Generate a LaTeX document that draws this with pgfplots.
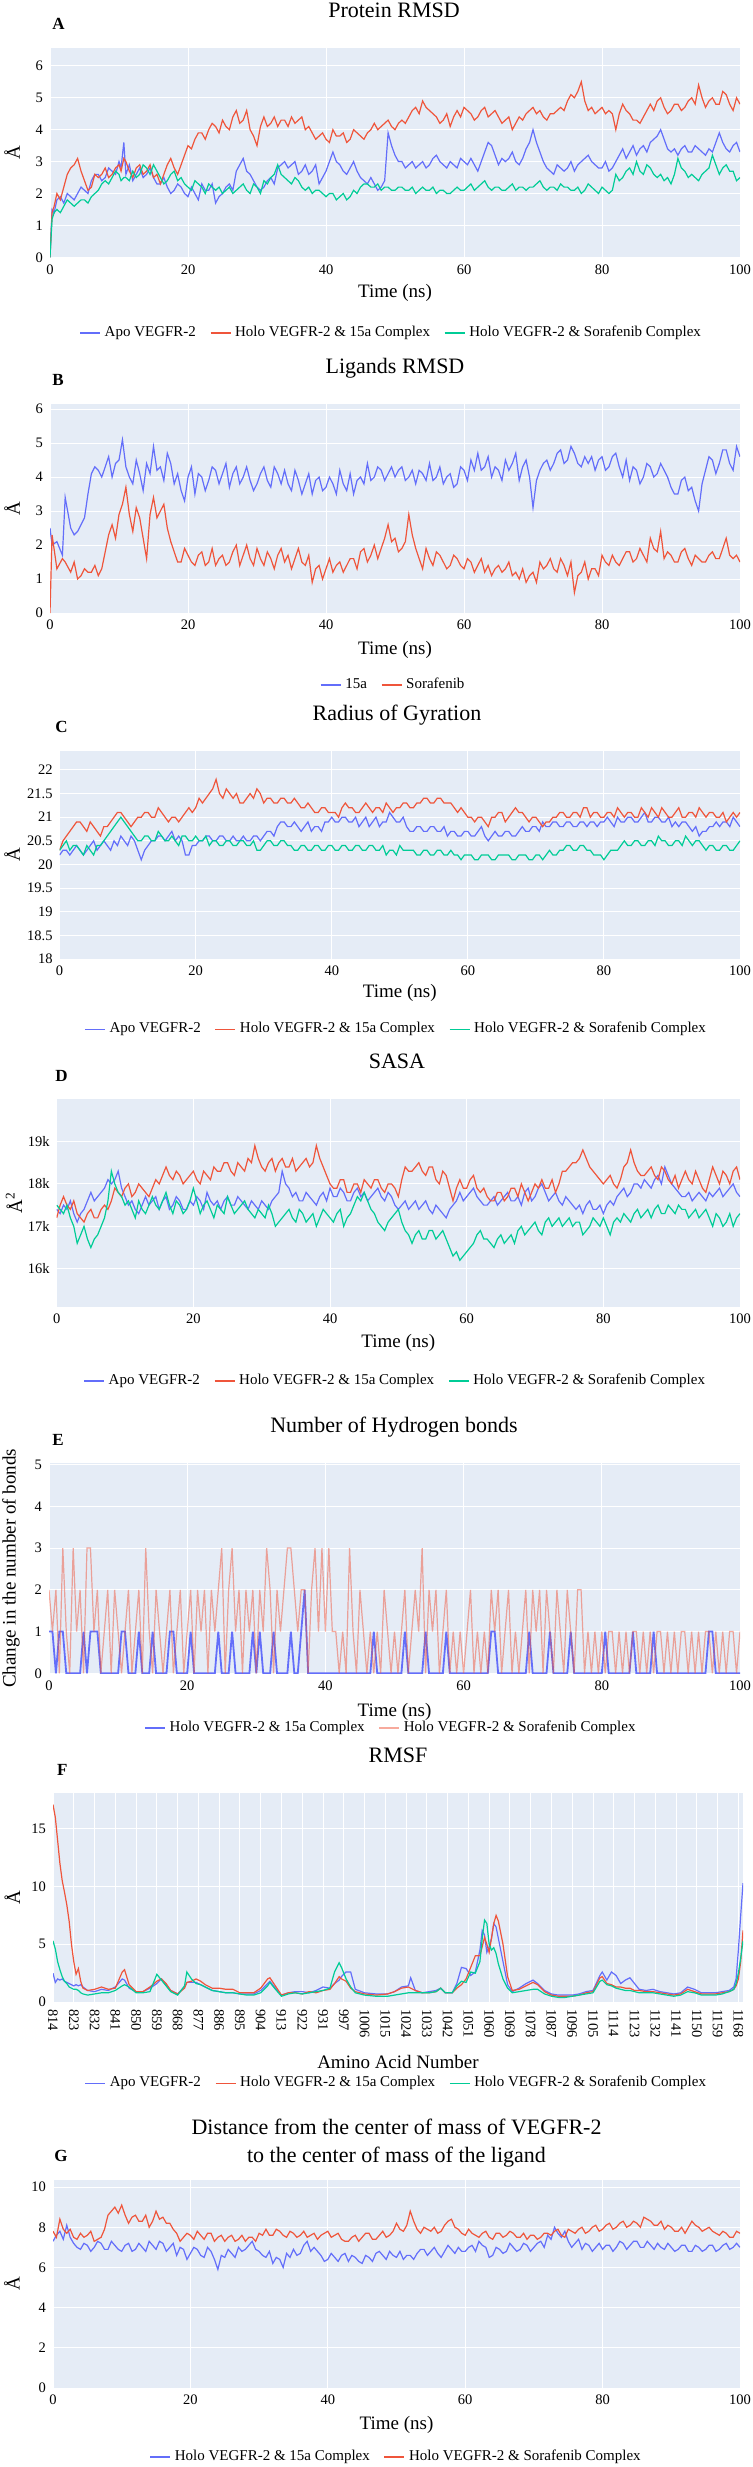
\documentclass[border=0pt]{standalone}
\usepackage{fontspec}
\setmainfont{Liberation Serif}
\usepackage{pgfplots}
\pgfplotsset{compat=1.18}
\usepackage{pgfplotstable}
\definecolor{pblue}{HTML}{636EFA}
\definecolor{pred}{HTML}{EF553B}
\definecolor{pgreen}{HTML}{00CC96}
\definecolor{bgc}{HTML}{E5ECF6}
\newcommand{\tickf}{\fontsize{7.25}{8}\selectfont}
\newcommand{\labf}{\fontsize{9.5}{11}\selectfont}
\newcommand{\legf}{\fontsize{7.5}{9}\selectfont}
\newcommand{\titf}{\fontsize{11}{13}\selectfont}
\newcommand{\letf}{\bfseries\fontsize{8.5}{10}\selectfont}

\pgfplotsset{
  legend image code/.code={\draw[#1] (0pt,0pt) -- (10pt,0pt);},
  panel/.style={
    scale only axis, anchor=north west,
    axis background/.style={fill=bgc},
    axis line style={draw=none},
    major tick length=0pt,
    grid=major,
    major grid style={draw=white, line width=0.5pt},
    tick label style={font=\tickf},
    label style={font=\labf},
    /pgf/number format/assume math mode=true,
    legend style={draw=none, fill=none, font=\legf, legend columns=-1, anchor=center,
      /tikz/every even column/.append style={column sep=5pt}},
    every axis plot/.append style={line width=0.6pt},
    no markers,
    scaled ticks=false,
  },
  timeax/.style={xmin=0, xmax=100, xtick={0,20,40,60,80,100}},
}

\pgfplotstableread{
t apo h15 hsor
0 0 0 0
0.3 1.5 1.4 1.2
0.6 1.4 1.6 1.4
1 1.8 2.0 1.5
1.5 1.9 1.8 1.4
2 1.7 2.2 1.6
2.5 2.0 2.6 1.8
3 1.9 2.8 1.7
3.5 1.8 2.9 1.6
4 2.0 3.1 1.7
4.5 2.2 2.7 1.8
5 2.1 2.4 1.8
5.5 2.0 2.1 1.7
6 2.4 2.2 1.9
6.5 2.6 2.6 2.0
7 2.6 2.5 2.1
7.5 2.4 2.6 2.3
8 2.5 2.8 2.4
8.5 2.8 2.5 2.3
9 2.7 2.6 2.5
9.5 2.6 2.8 2.7
10 3.0 2.9 2.6
10.3 2.8 2.7 2.4
10.7 3.6 3.1 2.5
11 2.6 3.0 2.5
11.5 2.9 2.7 2.4
12 2.4 2.5 2.7
12.5 2.6 2.8 2.5
13 2.8 2.9 2.6
13.5 2.5 2.6 2.9
14 2.6 2.7 2.8
14.5 2.8 2.9 2.6
15 2.5 2.5 2.9
15.5 2.3 2.6 2.7
16 2.3 2.3 2.5
16.5 2.5 2.6 2.3
17 2.2 2.9 2.4
17.5 2.0 3.1 2.6
18 2.1 2.8 2.7
18.5 2.3 2.6 2.4
19 2.2 2.9 2.5
19.5 2.0 3.2 2.3
20 1.9 3.5 2.2
20.5 2.2 3.4 2.1
21 2.0 3.7 2.4
21.5 1.8 3.9 2.3
22 2.3 3.9 2.2
22.5 2.1 3.7 2.0
23 2.1 4.0 2.3
23.5 2.3 4.2 2.2
24 1.7 4.1 2.1
24.5 1.9 3.9 2.2
25 2.0 4.3 2.0
25.5 2.2 4.1 2.1
26 2.3 4.0 2.2
26.5 2.1 4.4 2.0
27 2.7 4.6 2.1
27.5 2.9 4.2 2.2
28 3.1 4.3 2.3
28.5 2.7 4.6 2.1
29 2.6 4.0 2.0
29.5 2.4 3.8 2.3
30 2.2 3.5 2.2
30.5 2.1 4.1 2.0
31 2.2 4.4 2.4
31.5 2.4 4.1 2.3
32 2.5 4.2 2.5
32.5 2.3 4.4 2.6
33 2.8 4.1 2.9
33.5 2.9 4.3 2.6
34 3.0 4.3 2.5
34.5 2.8 4.1 2.4
35 2.9 4.4 2.3
35.5 3.0 4.2 2.5
36 2.6 4.3 2.4
36.5 2.7 4.4 2.2
37 2.9 4.0 2.1
37.5 2.6 4.1 2.2
38 2.7 3.9 2.0
38.5 2.9 3.7 2.1
39 2.3 3.8 2.1
39.5 2.5 3.9 2.0
40 2.7 3.7 1.9
40.5 3.0 3.6 2.0
41 3.3 4.0 2.0
41.5 3.0 3.8 1.8
42 2.9 3.8 1.9
42.5 2.7 3.9 2.0
43 2.6 3.6 1.8
43.5 2.8 3.7 1.9
44 3.0 4.0 2.1
44.5 2.7 3.9 2.0
45 2.5 3.8 2.2
45.5 2.4 3.7 2.3
46 2.3 3.9 2.3
46.5 2.5 4.0 2.2
47 2.3 4.2 2.2
47.5 2.1 4.0 2.3
48 2.2 4.1 2.1
48.5 2.4 4.2 2.2
49 3.9 4.3 2.2
49.5 3.5 4.1 2.1
50 3.2 4.0 2.1
50.5 3.0 4.2 2.2
51 3.0 4.3 2.2
51.5 2.8 4.2 2.1
52 2.9 4.4 2.1
52.5 3.0 4.6 2.2
53 2.8 4.7 2.0
53.5 2.9 4.5 2.1
54 3.0 4.9 2.2
54.5 2.8 4.7 2.1
55 2.9 4.6 2.1
55.5 3.1 4.5 2.2
56 3.2 4.4 2.0
56.5 3.0 4.2 2.1
57 2.9 4.3 2.1
57.5 2.8 4.5 2.0
58 3.0 4.1 2.0
58.5 2.9 4.4 2.1
59 2.8 4.6 2.2
59.5 3.1 4.4 2.1
60 3.0 4.7 2.1
60.5 2.9 4.6 2.2
61 3.1 4.5 2.3
61.5 2.9 4.3 2.1
62 2.7 4.4 2.2
62.5 3.0 4.6 2.3
63 3.3 4.7 2.4
63.5 3.6 4.4 2.2
64 3.5 4.5 2.1
64.5 3.2 4.6 2.2
65 2.9 4.4 2.2
65.5 3.1 4.2 2.1
66 3.0 4.3 2.1
66.5 3.1 4.4 2.2
67 3.3 4.0 2.3
67.5 3.0 4.2 2.1
68 2.9 4.4 2.2
68.5 3.1 4.3 2.2
69 3.4 4.5 2.1
69.5 3.6 4.6 2.2
70 4.0 4.7 2.2
70.5 3.6 4.5 2.3
71 3.3 4.6 2.4
71.5 3.0 4.4 2.2
72 2.8 4.3 2.1
72.5 2.7 4.5 2.2
73 2.6 4.5 2.2
73.5 2.9 4.6 2.1
74 2.8 4.7 2.3
74.5 2.7 4.6 2.2
75 2.8 4.9 2.2
75.5 3.0 5.1 2.1
76 2.7 5.0 2.1
76.5 2.9 5.2 2.2
77 3.0 5.5 2.0
77.5 3.1 4.9 2.1
78 3.2 4.6 2.3
78.5 3.0 4.7 2.2
79 2.9 4.5 2.1
79.5 2.8 4.6 2.0
80 2.8 4.7 2.2
80.5 3.0 4.5 2.1
81 2.7 4.6 2.0
81.5 2.8 4.5 2.1
82 3.0 4.0 2.6
82.5 3.2 4.5 2.4
83 3.4 4.8 2.5
83.5 3.1 4.6 2.7
84 3.3 4.5 2.8
84.5 3.5 4.3 2.6
85 3.2 4.3 3.0
85.5 3.4 4.2 2.7
86 3.5 4.4 2.6
86.5 3.3 4.6 2.9
87 3.6 4.8 2.8
87.5 3.7 4.6 2.6
88 3.8 4.9 2.5
88.5 4.0 5.0 2.6
89 3.7 4.7 2.4
89.5 3.4 4.5 2.5
90 3.3 4.6 2.3
90.5 3.4 4.8 2.6
91 3.2 4.8 3.1
91.5 3.4 4.6 2.8
92 3.5 4.7 2.7
92.5 3.3 4.9 2.5
93 3.3 5.0 2.6
93.5 3.5 4.8 2.5
94 3.4 5.4 2.4
94.5 3.3 5.0 2.6
95 3.2 4.7 2.7
95.5 3.4 4.9 2.8
96 3.3 5.0 3.2
96.5 3.6 4.8 2.9
97 3.9 4.8 2.6
97.5 3.6 5.2 2.8
98 3.4 5.1 2.9
98.5 3.3 4.8 2.7
99 3.5 4.6 2.7
99.5 3.6 5.0 2.4
100 3.3 4.8 2.5
}\tabA

\pgfplotstableread{
t l15 lsor
0 2.5 0.0
0.3 2.0 2.3
1 2.1 1.3
1.8 1.7 1.6
2.2 3.4 1.5
3 2.5 1.2
3.5 2.3 1.5
4 2.4 1.0
4.5 2.6 1.1
5 2.8 1.3
5.5 3.5 1.2
6 4.1 1.2
6.5 4.3 1.4
7 4.2 1.1
7.5 4.0 1.3
8 4.3 1.8
8.5 4.6 2.3
9 4.0 2.6
9.5 4.4 2.2
10 4.5 2.9
10.5 5.1 3.2
11 4.3 3.7
11.5 4.0 2.9
12 3.8 2.4
12.5 4.5 3.1
13 4.1 2.8
13.5 3.6 2.2
14 4.4 1.6
14.5 4.1 2.9
15 4.9 3.4
15.5 4.2 2.8
16 4.3 3.0
16.5 3.9 3.2
17 4.7 2.5
17.5 4.4 2.1
18 3.8 1.8
18.5 4.1 1.5
19 3.6 1.5
19.5 3.3 1.9
20 4.0 1.7
20.5 4.3 1.5
21 3.5 1.4
21.5 4.1 1.7
22 4.0 1.8
22.5 3.6 1.4
23 3.9 1.5
23.5 4.3 1.9
24 4.2 1.4
24.5 3.8 1.6
25 4.1 1.7
25.5 4.4 1.4
26 3.7 1.5
26.5 4.1 1.8
27 4.3 2.0
27.5 3.8 1.4
28 4.0 1.7
28.5 4.3 2.0
29 3.9 1.6
29.5 3.6 1.4
30 3.8 1.9
30.5 4.1 1.6
31 4.3 1.4
31.5 3.9 1.8
32 3.7 1.6
32.5 4.3 1.3
33 4.1 1.7
33.5 3.8 1.9
34 4.2 1.5
34.5 3.8 1.7
35 3.6 1.3
35.5 4.2 1.6
36 3.9 1.9
36.5 3.5 1.5
37 3.8 1.4
37.5 4.1 1.7
38 3.5 0.9
38.5 3.9 1.3
39 4.0 1.4
39.5 3.6 1.0
40 3.7 1.3
40.5 4.0 1.6
41 3.8 1.2
41.5 3.5 1.4
42 4.2 1.5
42.5 3.8 1.2
43 3.6 1.4
43.5 4.1 1.6
44 3.5 1.6
44.5 3.9 1.3
45 4.0 1.8
45.5 3.8 1.9
46 4.4 1.5
46.5 3.9 1.7
47 4.0 2.0
47.5 4.3 1.6
48 4.2 1.9
48.5 3.9 2.2
49 4.1 2.6
49.5 4.3 2.1
50 4.0 2.2
50.5 4.2 1.8
51 4.3 1.9
51.5 3.9 2.1
52 4.0 2.9
52.5 4.2 2.3
53 3.8 1.9
53.5 4.2 1.6
54 4.1 1.3
54.5 3.9 1.9
55 4.4 1.6
55.5 3.9 1.4
56 4.0 1.8
56.5 4.3 1.7
57 3.8 1.5
57.5 4.0 1.3
58 4.1 1.4
58.5 3.7 1.7
59 3.8 1.6
59.5 4.3 1.4
60 4.2 1.3
60.5 3.9 1.6
61 4.5 1.5
61.5 4.2 1.2
62 4.7 1.4
62.5 4.2 1.6
63 4.3 1.2
63.5 4.6 1.4
64 4.0 1.1
64.5 4.3 1.3
65 4.2 1.4
65.5 3.9 1.2
66 4.5 1.3
66.5 4.2 1.5
67 4.4 1.1
67.5 4.7 1.2
68 3.9 1.0
68.5 4.3 1.3
69 4.5 0.9
69.5 4.0 1.1
70 3.1 1.2
70.5 3.9 0.9
71 4.2 1.5
71.5 4.4 1.3
72 4.5 1.4
72.5 4.2 1.6
73 4.4 1.3
73.5 4.7 1.2
74 4.8 1.6
74.5 4.4 1.4
75 4.5 1.1
75.5 4.9 1.5
76 4.7 0.6
76.5 4.4 1.1
77 4.3 1.2
77.5 4.6 1.5
78 4.4 1.0
78.5 4.6 1.3
79 4.2 1.3
79.5 4.5 1.1
80 4.6 1.7
80.5 4.2 1.5
81 4.3 1.4
81.5 4.6 1.7
82 4.7 1.5
82.5 4.3 1.4
83 4.0 1.6
83.5 4.5 1.8
84 3.9 1.8
84.5 4.3 1.5
85 4.2 1.6
85.5 3.8 1.9
86 4.0 1.7
86.5 4.4 1.5
87 4.3 2.2
87.5 4.0 1.9
88 4.1 1.8
88.5 4.4 2.4
89 4.2 1.6
89.5 4.0 1.8
90 3.7 1.7
90.5 3.5 1.5
91 3.5 1.5
91.5 3.9 1.8
92 4.0 1.9
92.5 3.6 1.6
93 3.7 1.4
93.5 3.3 1.7
94 3.0 1.6
94.5 3.8 1.5
95 4.2 1.5
95.5 4.6 1.7
96 4.5 1.8
96.5 4.1 1.6
97 4.4 1.6
97.5 4.8 1.9
98 4.8 2.2
98.5 4.4 1.7
99 4.2 1.6
99.5 4.9 1.7
100 4.6 1.5
}\tabB

\pgfplotstableread{
t apo h15 hsor
0 20.2 20.3 20.3
0.5 20.3 20.5 20.4
1 20.3 20.6 20.5
1.5 20.2 20.7 20.3
2 20.3 20.8 20.4
2.5 20.4 20.9 20.4
3 20.3 20.9 20.3
3.5 20.2 20.8 20.2
4 20.3 20.7 20.4
4.5 20.4 20.9 20.3
5 20.5 20.8 20.2
5.5 20.3 20.7 20.4
6 20.4 20.6 20.4
6.5 20.5 20.8 20.5
7 20.4 20.8 20.6
7.5 20.3 20.9 20.7
8 20.5 21.0 20.8
8.5 20.4 21.1 20.9
9 20.6 21.1 21.0
9.5 20.5 21.0 20.9
10 20.4 20.9 20.8
10.5 20.6 20.8 20.7
11 20.5 20.9 20.6
11.5 20.3 21.0 20.5
12 20.1 21.0 20.5
12.5 20.3 21.1 20.6
13 20.4 21.1 20.6
13.5 20.5 21.0 20.5
14 20.5 21.0 20.5
14.5 20.6 21.2 20.7
15 20.6 21.1 20.6
15.5 20.5 21.0 20.5
16 20.6 20.9 20.5
16.5 20.7 21.0 20.6
17 20.5 21.0 20.5
17.5 20.6 20.9 20.4
18 20.5 21.0 20.6
18.5 20.2 21.1 20.6
19 20.2 21.2 20.5
19.5 20.4 21.1 20.5
20 20.4 21.2 20.6
20.5 20.5 21.4 20.5
21 20.5 21.3 20.5
21.5 20.6 21.4 20.6
22 20.6 21.5 20.4
22.5 20.5 21.6 20.5
23 20.5 21.8 20.5
23.5 20.6 21.5 20.4
24 20.6 21.4 20.4
24.5 20.5 21.6 20.5
25 20.5 21.5 20.5
25.5 20.6 21.4 20.4
26 20.5 21.5 20.4
26.5 20.5 21.3 20.5
27 20.6 21.3 20.5
27.5 20.5 21.4 20.4
28 20.5 21.5 20.4
28.5 20.6 21.4 20.5
29 20.6 21.6 20.3
29.5 20.5 21.5 20.3
30 20.6 21.3 20.4
30.5 20.7 21.4 20.5
31 20.7 21.4 20.5
31.5 20.6 21.3 20.4
32 20.8 21.3 20.4
32.5 20.9 21.4 20.5
33 20.9 21.4 20.5
33.5 20.8 21.3 20.4
34 20.8 21.3 20.4
34.5 20.9 21.4 20.3
35 20.8 21.3 20.3
35.5 20.7 21.2 20.4
36 20.8 21.2 20.4
36.5 20.9 21.3 20.3
37 20.7 21.2 20.3
37.5 20.8 21.1 20.4
38 20.8 21.1 20.4
38.5 20.7 21.2 20.3
39 20.9 21.2 20.3
39.5 20.9 21.1 20.4
40 21.0 21.1 20.4
40.5 20.9 21.1 20.3
41 20.9 21.0 20.3
41.5 21.0 21.2 20.4
42 21.0 21.3 20.4
42.5 20.9 21.2 20.3
43 20.9 21.2 20.3
43.5 21.0 21.1 20.4
44 20.8 21.1 20.4
44.5 20.9 21.2 20.3
45 21.0 21.3 20.3
45.5 20.8 21.2 20.4
46 20.9 21.1 20.4
46.5 21.0 21.2 20.3
47 20.8 21.2 20.3
47.5 20.9 21.1 20.4
48 20.9 21.3 20.2
48.5 21.1 21.2 20.3
49 21.0 21.1 20.3
49.5 20.9 21.2 20.2
50 20.9 21.2 20.4
50.5 21.0 21.3 20.3
51 20.8 21.3 20.3
51.5 20.7 21.2 20.3
52 20.7 21.2 20.3
52.5 20.8 21.3 20.2
53 20.8 21.3 20.2
53.5 20.7 21.4 20.3
54 20.7 21.4 20.3
54.5 20.8 21.3 20.2
55 20.8 21.3 20.2
55.5 20.7 21.4 20.3
56 20.7 21.4 20.3
56.5 20.8 21.3 20.2
57 20.6 21.3 20.2
57.5 20.7 21.3 20.3
58 20.7 21.2 20.2
58.5 20.6 21.1 20.2
59 20.6 21.2 20.1
59.5 20.7 21.1 20.2
60 20.7 21.0 20.2
60.5 20.6 21.0 20.2
61 20.6 20.9 20.1
61.5 20.7 21.0 20.1
62 20.8 21.0 20.2
62.5 20.6 20.9 20.2
63 20.5 20.8 20.2
63.5 20.6 21.0 20.1
64 20.7 21.0 20.1
64.5 20.6 21.1 20.2
65 20.6 21.1 20.2
65.5 20.7 20.9 20.2
66 20.7 21.0 20.2
66.5 20.6 21.1 20.1
67 20.6 21.2 20.1
67.5 20.7 21.1 20.2
68 20.8 21.1 20.2
68.5 20.7 21.0 20.2
69 20.7 20.9 20.1
69.5 20.8 21.0 20.1
70 20.8 21.0 20.2
70.5 20.7 20.9 20.2
71 20.9 20.8 20.1
71.5 20.8 20.9 20.2
72 20.8 20.9 20.3
72.5 20.9 21.0 20.2
73 20.9 21.0 20.2
73.5 20.8 21.1 20.3
74 20.8 21.1 20.3
74.5 20.9 21.0 20.4
75 20.9 21.0 20.4
75.5 20.8 21.1 20.3
76 20.8 21.1 20.3
76.5 20.9 21.0 20.4
77 20.9 21.2 20.4
77.5 20.8 21.2 20.3
78 20.9 21.0 20.3
78.5 20.9 21.1 20.2
79 20.8 21.1 20.2
79.5 20.9 21.0 20.2
80 20.9 21.0 20.1
80.5 21.0 21.1 20.2
81 20.9 21.1 20.3
81.5 20.8 21.0 20.3
82 21.0 21.2 20.3
82.5 20.9 21.1 20.4
83 20.9 21.0 20.5
83.5 21.0 21.1 20.4
84 21.0 21.1 20.4
84.5 20.9 21.0 20.5
85 20.9 21.0 20.5
85.5 21.0 21.2 20.4
86 21.1 21.1 20.4
86.5 20.9 21.0 20.5
87 20.9 21.2 20.5
87.5 21.0 21.1 20.4
88 21.0 21.0 20.6
88.5 20.9 21.2 20.5
89 20.9 21.1 20.5
89.5 21.0 21.0 20.4
90 20.8 21.0 20.4
90.5 20.9 21.1 20.5
91 20.8 21.2 20.5
91.5 20.9 21.0 20.4
92 20.9 21.0 20.6
92.5 20.8 21.1 20.5
93 20.7 21.1 20.4
93.5 20.8 21.0 20.5
94 20.6 21.2 20.5
94.5 20.7 21.1 20.4
95 20.7 21.0 20.3
95.5 20.8 21.1 20.4
96 20.8 21.1 20.4
96.5 20.9 21.0 20.3
97 20.8 21.0 20.3
97.5 20.9 21.1 20.4
98 20.9 20.9 20.4
98.5 20.8 21.0 20.3
99 21.0 21.1 20.3
99.5 20.9 21.0 20.4
100 20.8 21.1 20.5
}\tabC

\pgfplotstableread{
t apo h15 hsor
0 17400 17200 17500
0.5 17300 17500 17400
1 17500 17700 17300
1.5 17400 17500 17500
2 17600 17400 17200
2.5 17300 17600 17000
3 17100 17300 16600
3.5 17300 17200 16800
4 17400 17100 17000
4.5 17600 17300 16700
5 17800 17400 16500
5.5 17600 17200 16700
6 17700 17200 16800
6.5 17800 17400 17000
7 17900 17500 17200
7.5 18100 17400 17600
8 18000 17600 18300
8.5 18100 17900 18000
9 18300 17800 17800
9.5 17900 17700 17700
10 17700 17900 17500
10.5 17500 18000 17600
11 17600 17700 17400
11.5 17400 17800 17200
12 17300 18000 17600
12.5 17500 17900 17400
13 17700 17800 17300
13.5 17500 17700 17500
14 17600 17900 17700
14.5 17700 18100 17500
15 17400 18000 17400
15.5 17600 18200 17600
16 17700 18400 17800
16.5 17400 18200 17500
17 17500 18100 17300
17.5 17700 18300 17600
18 17600 18200 17500
18.5 17400 18000 17300
19 17400 18100 17400
19.5 17600 18200 17600
20 17500 18300 17900
20.5 17700 18100 17600
21 17600 18000 17300
21.5 17400 18300 17500
22 17800 18200 17600
22.5 17600 18100 17400
23 17500 18400 17200
23.5 17600 18300 17500
24 17400 18300 17400
24.5 17600 18500 17300
25 17700 18500 17700
25.5 17500 18300 17500
26 17500 18200 17300
26.5 17700 18500 17400
27 17600 18400 17500
27.5 17500 18300 17600
28 17400 18600 17400
28.5 17600 18500 17300
29 17500 18900 17200
29.5 17400 18600 17400
30 17600 18400 17300
30.5 17500 18300 17200
31 17400 18500 17500
31.5 17600 18600 17300
32 17700 18300 17000
32.5 17800 18500 17100
33 18300 18600 17200
33.5 18000 18400 17300
34 17900 18400 17400
34.5 17700 18600 17200
35 17800 18300 17100
35.5 17600 18400 17400
36 17600 18500 17300
36.5 17800 18600 17100
37 17700 18400 17200
37.5 17600 18500 17300
38 17500 18900 17000
38.5 17700 18600 17200
39 17800 18400 17400
39.5 17600 18200 17300
40 17900 18000 17200
40.5 17700 17900 17100
41 17700 17900 17300
41.5 17900 18100 17400
42 17800 18100 17000
42.5 17600 17800 17200
43 17600 17800 17300
43.5 17800 18000 17500
44 17900 18000 17700
44.5 17700 17800 17600
45 17800 18100 17800
45.5 17600 18000 17600
46 17700 17900 17400
46.5 17800 18100 17300
47 17900 18100 17100
47.5 17700 17900 17000
48 17600 17800 16900
48.5 17800 18000 17100
49 17700 18000 17200
49.5 17500 17900 17300
50 17400 17700 17400
50.5 17500 18100 17100
51 17600 18400 16900
51.5 17400 18300 16800
52 17500 18300 16600
52.5 17600 18400 16800
53 17400 18500 16900
53.5 17500 18300 16700
54 17600 18200 16700
54.5 17400 18400 16900
55 17300 18400 16900
55.5 17500 18100 16700
56 17400 18000 16800
56.5 17300 18300 16900
57 17200 18200 16700
57.5 17400 17900 16500
58 17500 17600 16300
58.5 17600 17900 16400
59 17800 18100 16200
59.5 17600 17900 16300
60 17700 17900 16400
60.5 17800 18100 16500
61 17900 18200 16600
61.5 17700 17900 16800
62 17600 17800 16900
62.5 17500 17900 16700
63 17500 17700 16700
63.5 17600 17600 16600
64 17700 17600 16500
64.5 17500 17800 16700
65 17600 17800 16800
65.5 17700 17600 16600
66 17800 17700 16700
66.5 17600 17900 16800
67 17600 17900 16600
67.5 17700 17700 16900
68 17500 18000 17000
68.5 17800 17800 16800
69 17900 17600 16900
69.5 17600 17800 17000
70 17700 18000 17100
70.5 17900 17900 16900
71 18000 18100 16800
71.5 17800 17900 17100
72 17600 17900 17200
72.5 17700 18100 17000
73 17800 17800 17100
73.5 17600 18000 17200
74 17500 18300 17000
74.5 17700 18300 17100
75 17600 18400 17200
75.5 17500 18500 17000
76 17400 18500 17100
76.5 17500 18600 17100
77 17300 18800 16800
77.5 17500 18600 16900
78 17600 18400 17000
78.5 17400 18300 17200
79 17400 18200 17100
79.5 17500 18100 17000
80 17300 18000 17200
80.5 17500 18100 17000
81 17600 18200 16800
81.5 17500 18000 17100
82 17700 17900 17200
82.5 17800 18100 17100
83 17900 18400 17300
83.5 17700 18500 17200
84 17800 18800 17100
84.5 18000 18500 17300
85 18000 18300 17400
85.5 17900 18200 17200
86 18100 18200 17300
86.5 18000 18300 17400
87 17900 18400 17200
87.5 18100 18200 17400
88 18200 18100 17500
88.5 18000 18400 17300
89 18400 18300 17300
89.5 18200 18100 17500
90 18000 18000 17400
90.5 17900 18200 17300
91 17800 17900 17500
91.5 17700 18100 17400
92 17700 18300 17400
92.5 17800 18100 17200
93 17600 18000 17300
93.5 17700 18300 17400
94 17800 18100 17200
94.5 17700 17900 17300
95 17600 17800 17400
95.5 17800 18100 17200
96 17700 18400 17000
96.5 17800 18200 17300
97 17900 18000 17200
97.5 17700 18300 17000
98 17800 18200 17100
98.5 17900 18000 17300
99 18000 18300 17000
99.5 17800 18400 17200
100 17700 18100 17300
}\tabD

\pgfplotstableread{
t b s
0 1 2
0.5 1 1
1 0 2
1.5 1 0
2 1 3
2.5 0 1
3 0 0
3.5 0 3
4 0 1
4.5 0 2
5 1 0
5.5 0 3
6 1 3
6.5 1 1
7 1 2
7.5 0 0
8 0 1
8.5 0 2
9 0 0
9.5 0 2
10 0 1
10.5 1 0
11 1 1
11.5 0 2
12 0 0
12.5 0 1
13 1 2
13.5 0 0
14 0 3
14.5 0 1
15 1 0
15.5 0 2
16 0 1
16.5 0 0
17 0 1
17.5 1 2
18 1 0
18.5 0 1
19 0 2
19.5 0 0
20 0 1
20.5 1 2
21 0 0
21.5 0 2
22 0 1
22.5 0 2
23 0 0
23.5 0 2
24 0 1
24.5 1 2
25 0 3
25.5 0 0
26 0 2
26.5 1 3
27 0 1
27.5 0 2
28 0 0
28.5 0 2
29 0 1
29.5 1 2
30 0 0
30.5 1 2
31 0 1
31.5 0 3
32 0 2
32.5 1 0
33 0 2
33.5 0 1
34 0 2
34.5 0 3
35 1 3
35.5 0 2
36 0 1
36.5 1 2
37 2 2
37.5 0 0
38 0 2
38.5 0 3
39 0 1
39.5 0 3
40 0 1
40.5 0 3
41 0 1
41.5 0 1
42 0 0
42.5 0 1
43 0 0
43.5 0 3
44 0 1
44.5 0 0
45 0 2
45.5 0 1
46 0 0
46.5 0 1
47 1 0
47.5 0 1
48 0 0
48.5 0 2
49 0 1
49.5 0 0
50 0 1
50.5 0 0
51 0 1
51.5 1 2
52 0 0
52.5 0 1
53 0 2
53.5 0 1
54 0 3
54.5 1 0
55 0 2
55.5 0 1
56 0 2
56.5 0 0
57 0 1
57.5 1 2
58 0 0
58.5 0 1
59 0 0
59.5 0 1
60 0 0
60.5 0 1
61 0 2
61.5 0 0
62 0 1
62.5 0 0
63 0 1
63.5 0 0
64 1 2
64.5 1 1
65 0 2
65.5 0 0
66 0 1
66.5 0 2
67 0 0
67.5 0 1
68 0 0
68.5 0 1
69 0 2
69.5 1 0
70 0 2
70.5 0 1
71 0 2
71.5 0 0
72 0 2
72.5 1 1
73 0 0
73.5 0 2
74 0 1
74.5 0 0
75 0 2
75.5 1 1
76 0 0
76.5 0 2
77 0 2
77.5 0 0
78 0 1
78.5 0 0
79 0 1
79.5 0 0
80 0 1
80.5 1 0
81 0 1
81.5 0 1
82 0 0
82.5 0 1
83 0 0
83.5 0 1
84 0 0
84.5 1 1
85 0 1
85.5 0 0
86 0 1
86.5 0 0
87 0 1
87.5 1 0
88 0 1
88.5 0 1
89 0 0
89.5 0 1
90 0 0
90.5 0 1
91 0 0
91.5 0 1
92 0 1
92.5 0 0
93 0 1
93.5 0 0
94 0 1
94.5 0 0
95 0 1
95.5 1 1
96 1 0
96.5 0 1
97 0 0
97.5 0 1
98 0 0
98.5 0 1
99 0 1
99.5 0 0
100 0 1
}\tabE

\pgfplotstableread{
i r b g
0 17.1 2.5 5.3
1 16.0 1.7 4.6
2 14.0 2.0 3.5
3 12.0 1.9 2.8
4 10.5 2.0 2.2
5 9.5 1.8 1.8
6 8.4 1.7 1.6
7 7.0 1.6 1.3
8 5.0 1.5 1.2
9 3.5 1.4 1.1
10 2.4 1.5 1.1
11 2.9 1.4 1.0
12 1.8 1.5 0.8
13 1.2 1.3 0.7
15 1.0 1.0 0.6
18 1.1 0.9 0.7
21 1.3 1.1 0.8
24 1.1 1.0 0.8
27 1.2 1.3 1.0
30 2.6 2.0 1.4
31 2.8 1.9 1.5
33 1.5 1.2 1.3
36 0.9 0.9 0.8
39 0.9 0.9 0.8
42 1.3 1.2 0.9
45 1.8 1.6 2.4
47 2.0 2.0 1.9
49 1.6 1.5 1.4
51 1.0 1.0 0.9
54 0.7 0.7 0.6
57 1.2 1.3 1.4
58 1.7 1.7 2.6
60 1.8 1.7 2.0
62 2.0 1.7 1.6
64 1.8 1.5 1.5
66 1.5 1.3 1.3
69 1.2 1.0 1.0
72 1.2 0.9 0.9
75 1.1 0.8 0.8
78 1.1 0.8 0.8
81 0.8 0.7 0.7
84 0.8 0.7 0.6
87 0.8 0.7 0.6
90 1.2 1.0 0.8
93 2.0 1.6 1.4
94 2.1 1.8 1.7
96 1.5 1.3 1.2
99 0.6 0.6 0.5
102 0.8 0.8 0.7
105 0.8 0.9 0.8
108 0.7 0.9 0.7
111 0.9 0.8 0.8
114 0.8 1.0 0.9
117 1.0 1.3 1.0
120 1.1 1.2 1.2
122 1.6 1.6 2.6
124 2.2 1.9 3.4
125 2.0 2.2 3.0
127 1.8 2.6 2.0
129 1.2 2.6 1.3
131 0.9 1.1 0.8
135 0.7 0.8 0.6
140 0.6 0.7 0.5
145 0.7 0.7 0.5
148 0.9 0.9 0.6
151 1.2 1.3 0.7
154 1.3 1.4 0.8
155 1.2 2.1 0.8
157 1.0 1.0 0.8
160 0.8 0.8 0.8
163 0.8 0.9 0.8
166 0.9 1.0 0.9
168 1.2 1.2 1.2
170 0.8 0.8 0.8
173 0.8 0.8 0.8
175 1.2 1.6 1.4
177 1.5 3.0 1.8
179 2.0 2.9 1.7
181 3.0 2.3 2.6
183 4.0 2.6 2.5
185 4.0 4.5 3.5
186 4.8 6.2 5.5
187 5.6 5.8 7.1
188 5.0 4.3 6.8
189 4.3 4.8 5.0
190 5.5 5.5 4.5
191 6.8 6.8 4.7
192 7.5 6.5 4.2
193 7.0 5.5 3.3
195 5.0 3.5 2.0
197 2.2 1.5 1.2
199 1.0 0.9 0.8
202 1.1 1.2 0.9
205 1.4 1.6 1.0
208 1.7 1.9 1.1
210 1.5 1.6 1.1
213 0.9 1.0 0.7
216 0.6 0.7 0.5
219 0.5 0.6 0.4
222 0.5 0.6 0.4
225 0.5 0.6 0.5
228 0.6 0.7 0.6
231 0.8 0.9 0.7
234 0.9 1.0 0.8
237 2.1 2.3 1.8
238 2.2 2.6 1.9
240 1.6 1.9 1.5
242 1.5 2.6 1.4
244 1.3 2.3 1.2
246 1.3 1.6 1.1
248 1.2 1.9 1.0
250 1.2 2.1 1.0
252 1.0 1.6 0.9
254 1.0 1.1 0.8
257 0.9 1.0 0.8
260 0.9 1.1 0.8
263 0.8 0.9 0.7
266 0.7 0.8 0.6
269 0.6 0.7 0.5
272 0.7 0.8 0.6
275 1.1 1.3 0.9
278 0.9 1.1 0.8
281 0.7 0.8 0.6
284 0.7 0.8 0.6
287 0.7 0.8 0.6
290 0.8 0.9 0.7
293 0.9 1.0 0.9
295 1.1 1.3 1.1
296 1.4 2.0 1.6
297 2.0 4.5 2.5
298 3.5 7.5 3.8
299 6.2 10.3 5.3
}\tabF

\pgfplotstableread{
t b r
0 7.3 7.8
0.5 7.6 7.5
1 7.8 8.4
1.5 7.4 7.9
2 8.1 7.7
2.5 7.5 7.9
3 7.2 7.5
3.5 7.0 7.4
4 6.9 7.7
4.5 7.2 7.5
5 7.1 7.6
5.5 6.8 7.8
6 7.0 7.3
6.5 7.3 7.4
7 7.2 7.5
7.5 6.9 7.9
8 6.9 8.6
8.5 7.3 8.8
9 7.1 9.0
9.5 6.9 8.7
10 6.8 9.1
10.5 7.1 8.6
11 7.2 8.2
11.5 6.8 8.5
12 6.9 8.6
12.5 7.2 8.3
13 7.0 8.3
13.5 6.8 8.6
14 7.3 8.0
14.5 7.1 8.3
15 6.9 8.8
15.5 7.3 8.4
16 7.2 8.5
16.5 6.8 8.2
17 7.0 8.2
17.5 7.2 7.9
18 6.6 7.7
18.5 7.0 7.3
19 6.9 7.5
19.5 6.4 7.7
20 6.7 7.6
20.5 7.0 7.4
21 6.9 7.8
21.5 6.6 7.6
22 6.5 7.4
22.5 7.0 7.7
23 6.8 7.7
23.5 6.4 7.3
24 5.9 7.5
24.5 6.6 7.6
25 6.5 7.3
25.5 6.9 7.5
26 6.7 7.6
26.5 6.5 7.3
27 7.0 7.4
27.5 6.8 7.6
28 6.9 7.3
28.5 7.1 7.5
29 7.3 7.5
29.5 6.9 7.3
30 6.8 7.7
30.5 6.6 7.6
31 6.5 7.9
31.5 6.8 7.6
32 6.2 7.6
32.5 6.5 7.9
33 6.4 7.8
33.5 6.0 7.6
34 6.7 7.5
34.5 6.5 7.8
35 6.9 7.7
35.5 6.6 7.5
36 6.7 7.6
36.5 7.1 7.8
37 7.3 7.5
37.5 6.8 7.6
38 7.0 7.7
38.5 6.8 7.4
39 6.6 7.6
39.5 6.3 7.7
40 6.4 7.8
40.5 6.7 7.5
41 6.5 7.6
41.5 6.3 7.7
42 6.6 7.4
42.5 6.7 7.3
43 6.3 7.3
43.5 6.6 7.5
44 6.5 7.6
44.5 6.3 7.3
45 6.2 7.5
45.5 6.6 7.7
46 6.5 7.7
46.5 6.3 7.4
47 6.7 7.4
47.5 6.8 7.6
48 6.6 7.8
48.5 6.4 7.5
49 6.8 7.6
49.5 6.6 7.8
50 6.5 8.2
50.5 6.8 7.9
51 6.4 7.8
51.5 6.6 8.1
52 6.6 8.8
52.5 6.4 8.3
53 6.7 7.9
53.5 6.9 7.7
54 6.9 8.0
54.5 6.6 7.9
55 6.8 7.8
55.5 7.0 8.0
56 6.7 7.7
56.5 6.5 7.8
57 6.8 8.1
57.5 7.1 8.3
58 6.9 8.4
58.5 6.7 8.0
59 7.0 7.9
59.5 6.8 7.7
60 6.8 7.6
60.5 7.0 7.9
61 7.1 7.7
61.5 6.8 7.6
62 7.3 7.5
62.5 7.1 7.7
63 7.0 7.8
63.5 6.5 7.5
64 6.6 7.4
64.5 7.0 7.7
65 6.9 7.7
65.5 6.7 7.5
66 6.8 7.6
66.5 7.2 7.8
67 7.0 7.7
67.5 6.8 7.5
68 6.9 7.5
68.5 7.2 7.7
69 7.1 7.4
69.5 6.8 7.6
70 7.0 7.6
70.5 7.2 7.4
71 7.3 7.5
71.5 7.0 7.7
72 7.6 7.7
72.5 7.4 7.6
73 8.0 7.8
73.5 7.7 7.9
74 7.5 7.6
74.5 7.8 7.5
75 7.3 7.9
75.5 7.0 7.8
76 7.2 7.7
76.5 7.4 7.9
77 6.9 8.0
77.5 7.2 7.7
78 7.1 7.8
78.5 6.8 8.0
79 7.0 8.1
79.5 7.2 7.8
80 6.9 7.9
80.5 7.1 8.1
81 7.1 8.2
81.5 6.8 7.9
82 7.0 8.0
82.5 7.3 8.2
83 7.2 8.3
83.5 6.9 8.0
84 7.1 8.1
84.5 7.3 8.3
85 7.3 8.2
85.5 7.0 8.0
86 7.0 8.5
86.5 7.3 8.4
87 7.1 8.3
87.5 6.9 8.1
88 7.2 8.1
88.5 7.0 8.3
89 6.9 7.9
89.5 7.2 8.1
90 7.0 8.0
90.5 6.8 7.8
91 6.9 7.8
91.5 7.1 8.0
92 7.1 7.7
92.5 6.8 8.0
93 6.8 8.3
93.5 7.1 8.1
94 7.0 8.0
94.5 6.8 7.8
95 6.9 7.9
95.5 7.1 8.0
96 7.1 7.8
96.5 6.8 7.7
97 6.9 7.6
97.5 7.1 7.8
98 7.2 7.7
98.5 6.9 7.5
99 7.0 7.5
99.5 7.2 7.8
100 7.0 7.7
}\tabG

\begin{document}
\begin{tikzpicture}
\useasboundingbox (0,0) rectangle (376.5pt,-1233.5pt);

% ---------- titles and panel letters ----------
\node[anchor=base, inner sep=0, font=\titf] at (197pt,-8.65pt) {Protein RMSD};
\node[anchor=base, inner sep=0, font=\titf] at (197.5pt,-186.5pt) {Ligands RMSD};
\node[anchor=base, inner sep=0, font=\titf] at (198.5pt,-360pt) {Radius of Gyration};
\node[anchor=base, inner sep=0, font=\titf] at (198.5pt,-534pt) {SASA};
\node[anchor=base, inner sep=0, font=\titf] at (197pt,-716.35pt) {Number of Hydrogen bonds};
\node[anchor=base, inner sep=0, font=\titf] at (199pt,-881.35pt) {RMSF};
\node[anchor=base, inner sep=0, font=\titf] at (198.25pt,-1067pt) {Distance from the center of mass of VEGFR-2};
\node[anchor=base, inner sep=0, font=\titf] at (198.25pt,-1081.35pt) {to the center of mass of the ligand};

\node[anchor=base west, inner sep=0, font=\letf] at (26pt,-14.65pt) {A};
\node[anchor=base west, inner sep=0, font=\letf] at (26pt,-192.5pt) {B};
\node[anchor=base west, inner sep=0, font=\letf] at (27.5pt,-366.35pt) {C};
\node[anchor=base west, inner sep=0, font=\letf] at (27.5pt,-540.85pt) {D};
\node[anchor=base west, inner sep=0, font=\letf] at (26pt,-722.5pt) {E};
\node[anchor=base west, inner sep=0, font=\letf] at (28.35pt,-887.5pt) {F};
\node[anchor=base west, inner sep=0, font=\letf] at (27pt,-1080.85pt) {G};

% ---------- A ----------
\begin{axis}[panel, timeax, at={(25pt,-23.85pt)}, width=345pt, height=104.8pt,
  ymin=0, ymax=6.57, ytick={0,1,2,3,4,5,6},
  xlabel={Time (ns)}, ylabel={Å},
  xlabel style={at={(axis description cs:0.5,-0.170)}, anchor=center},
  ylabel style={at={(axis description cs:-0.055,0.5)}, anchor=center},
  legend style={at={(0.496,-0.361)}}]
\addplot[pblue] table[x=t,y=apo]{\tabA};
\addlegendentry{Apo VEGFR-2}
\addplot[pred] table[x=t,y=h15]{\tabA};
\addlegendentry{Holo VEGFR-2 \& 15a Complex}
\addplot[pgreen] table[x=t,y=hsor]{\tabA};
\addlegendentry{Holo VEGFR-2 \& Sorafenib Complex}
\end{axis}

% ---------- B ----------
\begin{axis}[panel, timeax, at={(25pt,-202pt)}, width=345pt, height=104.5pt,
  ymin=0, ymax=6.15, ytick={0,1,2,3,4,5,6},
  xlabel={Time (ns)}, ylabel={Å},
  xlabel style={at={(axis description cs:0.5,-0.177)}, anchor=center},
  ylabel style={at={(axis description cs:-0.055,0.5)}, anchor=center},
  legend style={at={(0.499,-0.344)}}]
\addplot[pblue] table[x=t,y=l15]{\tabB};
\addlegendentry{15a}
\addplot[pred] table[x=t,y=lsor]{\tabB};
\addlegendentry{Sorafenib}
\end{axis}

% ---------- C ----------
\begin{axis}[panel, timeax, at={(29.8pt,-375.5pt)}, width=340.2pt, height=104pt,
  ymin=18, ymax=22.4, ytick={18,18.5,...,22},
  xlabel={Time (ns)}, ylabel={Å},
  xlabel style={at={(axis description cs:0.5,-0.163)}, anchor=center},
  ylabel style={at={(axis description cs:-0.070,0.5)}, anchor=center},
  legend style={at={(0.496,-0.337)}}]
\addplot[pblue] table[x=t,y=apo]{\tabC};
\addlegendentry{Apo VEGFR-2}
\addplot[pred] table[x=t,y=h15]{\tabC};
\addlegendentry{Holo VEGFR-2 \& 15a Complex}
\addplot[pgreen] table[x=t,y=hsor]{\tabC};
\addlegendentry{Holo VEGFR-2 \& Sorafenib Complex}
\end{axis}

% ---------- D ----------
\begin{axis}[panel, timeax, at={(28.35pt,-549.5pt)}, width=341.65pt, height=104pt,
  ymin=15100, ymax=20000, ytick={16000,17000,18000,19000}, yticklabels={16k,17k,18k,19k},
  xlabel={Time (ns)}, ylabel={Å\textsuperscript{2}},
  xlabel style={at={(axis description cs:0.5,-0.173)}, anchor=center},
  ylabel style={at={(axis description cs:-0.0625,0.5)}, anchor=center},
  legend style={at={(0.497,-0.356)}}]
\addplot[pblue] table[x=t,y=apo]{\tabD};
\addlegendentry{Apo VEGFR-2}
\addplot[pred] table[x=t,y=h15]{\tabD};
\addlegendentry{Holo VEGFR-2 \& 15a Complex}
\addplot[pgreen] table[x=t,y=hsor]{\tabD};
\addlegendentry{Holo VEGFR-2 \& Sorafenib Complex}
\end{axis}

% ---------- E ----------
\begin{axis}[panel, timeax, at={(24.5pt,-731.65pt)}, width=345.5pt, height=105pt,
  ymin=0, ymax=5.03, ytick={0,1,2,3,4,5},
  xlabel={Time (ns)}, ylabel={Change in the number of bonds},
  xlabel style={at={(axis description cs:0.5,-0.184)}, anchor=center},
  ylabel style={at={(axis description cs:-0.055,0.5)}, anchor=center},
  legend style={at={(0.496,-0.260)}}]
\addplot[pblue, line width=0.9pt] table[x=t,y=b]{\tabE};
\addlegendentry{Holo VEGFR-2 \& 15a Complex}
\addplot[pred, opacity=0.5] table[x=t,y=s]{\tabE};
\addlegendentry{Holo VEGFR-2 \& Sorafenib Complex}
\end{axis}

% ---------- F ----------
\begin{axis}[panel, at={(26.5pt,-896.5pt)}, width=345pt, height=104.5pt,
  xmin=0, xmax=299, ymin=0, ymax=18.1, ytick={0,5,10,15},
  xtick={0,9,...,297},
  xticklabels={814,823,832,841,850,859,868,877,886,895,904,913,922,931,997,1006,1015,1024,1033,1042,1051,1060,1069,1078,1087,1096,1105,1114,1123,1132,1141,1150,1159,1168},
  xticklabel style={rotate=-90, anchor=west},
  xlabel={Amino Acid Number}, ylabel={Å},
  xlabel style={at={(axis description cs:0.5,-0.287)}, anchor=center},
  ylabel style={at={(axis description cs:-0.059,0.5)}, anchor=center},
  legend style={at={(0.499,-0.388)}}]
\addplot[pblue] table[x=i,y=b]{\tabF};
\addlegendentry{Apo VEGFR-2}
\addplot[pred] table[x=i,y=r]{\tabF};
\addlegendentry{Holo VEGFR-2 \& 15a Complex}
\addplot[pgreen] table[x=i,y=g]{\tabF};
\addlegendentry{Holo VEGFR-2 \& Sorafenib Complex}
\end{axis}

% ---------- G ----------
\begin{axis}[panel, timeax, at={(26.5pt,-1090pt)}, width=343.5pt, height=104pt,
  ymin=0, ymax=10.35, ytick={0,2,4,6,8,10},
  xlabel={Time (ns)}, ylabel={Å},
  xlabel style={at={(axis description cs:0.5,-0.178)}, anchor=center},
  ylabel style={at={(axis description cs:-0.060,0.5)}, anchor=center},
  legend style={at={(0.501,-0.332)}}]
\addplot[pblue] table[x=t,y=b]{\tabG};
\addlegendentry{Holo VEGFR-2 \& 15a Complex}
\addplot[pred] table[x=t,y=r]{\tabG};
\addlegendentry{Holo VEGFR-2 \& Sorafenib Complex}
\end{axis}
\end{tikzpicture}
\end{document}
